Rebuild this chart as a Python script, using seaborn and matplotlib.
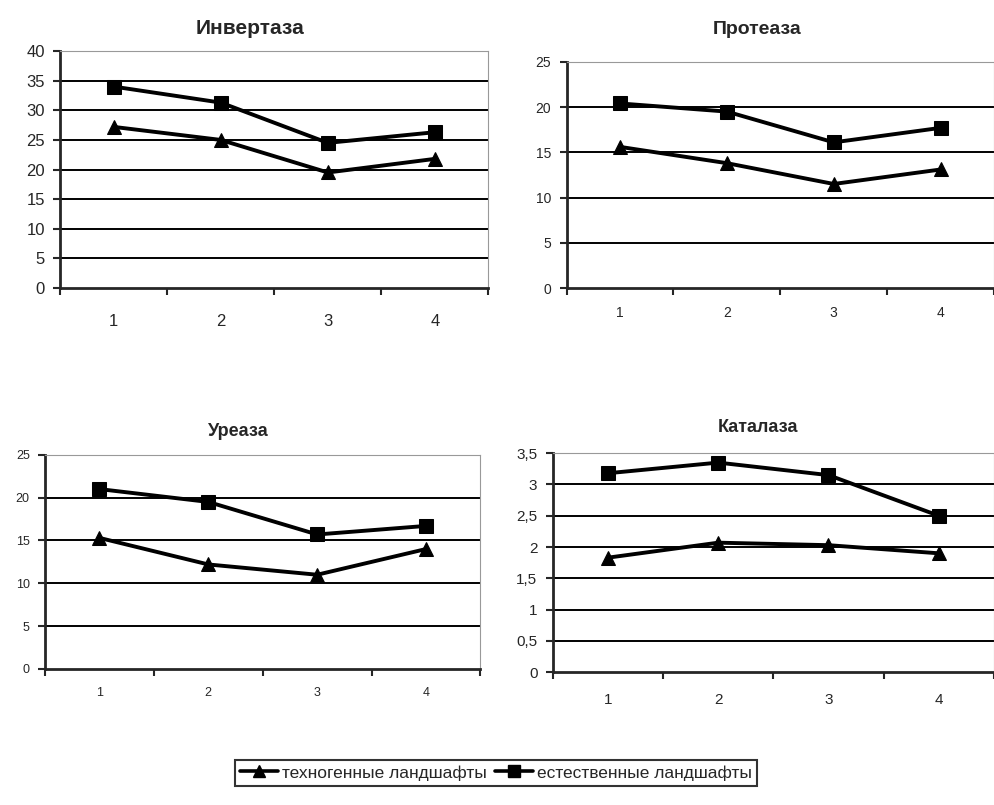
import pandas as pd
import matplotlib
matplotlib.use('Agg')
import matplotlib.pyplot as plt
import seaborn as sns
from matplotlib.lines import Line2D

# Data
points = [1, 2, 3, 4]
series_names = ['техногенные ландшафты', 'естественные ландшафты']

invertase_tech = [27.2, 25.0, 19.5, 21.8]
invertase_nat = [34.0, 31.3, 24.5, 26.3]
protease_tech = [15.6, 13.8, 11.5, 13.1]
protease_nat = [20.4, 19.5, 16.1, 17.7]
urease_tech = [15.3, 12.2, 11.0, 14.0]
urease_nat = [21.0, 19.5, 15.7, 16.7]
catalase_tech = [1.83, 2.07, 2.03, 1.90]
catalase_nat = [3.18, 3.35, 3.15, 2.50]

titles = ['Инвертаза', 'Протеаза', 'Уреаза', 'Каталаза']
y_max = [40, 25, 25, 3.5]
y_step = [5, 5, 5, 0.5]

sns.set_style('white')
plt.rcParams['font.family'] = ['Liberation Sans', 'DejaVu Sans']

fig = plt.figure(figsize=(9.94, 8.05), dpi=100)

# axes rectangles: left, bottom, width, height (figure fractions)
rects = [
    [0.0604, 0.6422, 0.431, 0.2944],
    [0.570, 0.6422, 0.430, 0.281],
    [0.0453, 0.169, 0.438, 0.266],
    [0.556, 0.165, 0.444, 0.272],
]
title_pos = [(250, 29), (757, 30), (238, 432), (758, 427)]
title_size = [15, 14, 13, 13]
tick_size = [12, 10, 9, 11]
x_pad = [19, 13, 13, 15]

data = [
    (invertase_tech, invertase_nat),
    (protease_tech, protease_nat),
    (urease_tech, urease_nat),
    (catalase_tech, catalase_nat),
]

for i, (tech, nat) in enumerate(data):
    ax = fig.add_axes(rects[i])
    df = pd.DataFrame({
        'x': points * 2,
        'y': tech + nat,
        's': [series_names[0]] * 4 + [series_names[1]] * 4,
    })
    for name, mk in zip(series_names, ['^', 's']):
        sub = df[df['s'] == name]
        sns.lineplot(data=sub, x='x', y='y', ax=ax, color='black', lw=2.8,
                     marker=mk, markersize=10, markeredgecolor='black',
                     legend=False)
    ax.set_xlim(0.5, 4.5)
    ax.set_ylim(0, y_max[i])
    n = int(round(y_max[i] / y_step[i]))
    yt = [k * y_step[i] for k in range(n + 1)]
    ax.set_yticks(yt)
    ax.set_yticklabels([('%g' % v).replace('.', ',') for v in yt], fontsize=tick_size[i])
    ax.set_xticks(points)
    ax.set_xticklabels([str(p) for p in points], fontsize=tick_size[i])
    ax.set_xticks([0.5, 1.5, 2.5, 3.5, 4.5], minor=True)
    ax.tick_params(axis='x', which='major', length=0, pad=x_pad[i])
    ax.tick_params(axis='x', which='minor', length=5, width=1.5, direction='out', bottom=True)
    ax.tick_params(axis='y', length=5, width=1.5, direction='out', left=True, pad=6)
    for v in yt[1:]:
        ax.axhline(v, color='black', lw=1.4, zorder=0)
    ax.spines['left'].set_linewidth(2)
    ax.spines['bottom'].set_linewidth(2)
    ax.spines['top'].set_color('#999999')
    ax.spines['right'].set_color('#999999')
    ax.set_xlabel('')
    ax.set_ylabel('')
    tx, ty = title_pos[i]
    fig.text(tx / 994, 1 - ty / 805, titles[i], ha='center', va='center',
             fontsize=title_size[i], fontweight='bold')

handles = [
    Line2D([], [], color='black', lw=2.6, marker='^', markersize=9),
    Line2D([], [], color='black', lw=2.6, marker='s', markersize=9),
]
leg = fig.legend(handles, series_names, loc='center', bbox_to_anchor=(0.499, 0.040),
                 ncol=2, frameon=True, fancybox=False, fontsize=12.5,
                 handlelength=2.2, handletextpad=0.2, columnspacing=0.5,
                 borderpad=0.3, edgecolor='black')
leg.get_frame().set_linewidth(1.5)

fig.savefig('out.png', dpi=100)
